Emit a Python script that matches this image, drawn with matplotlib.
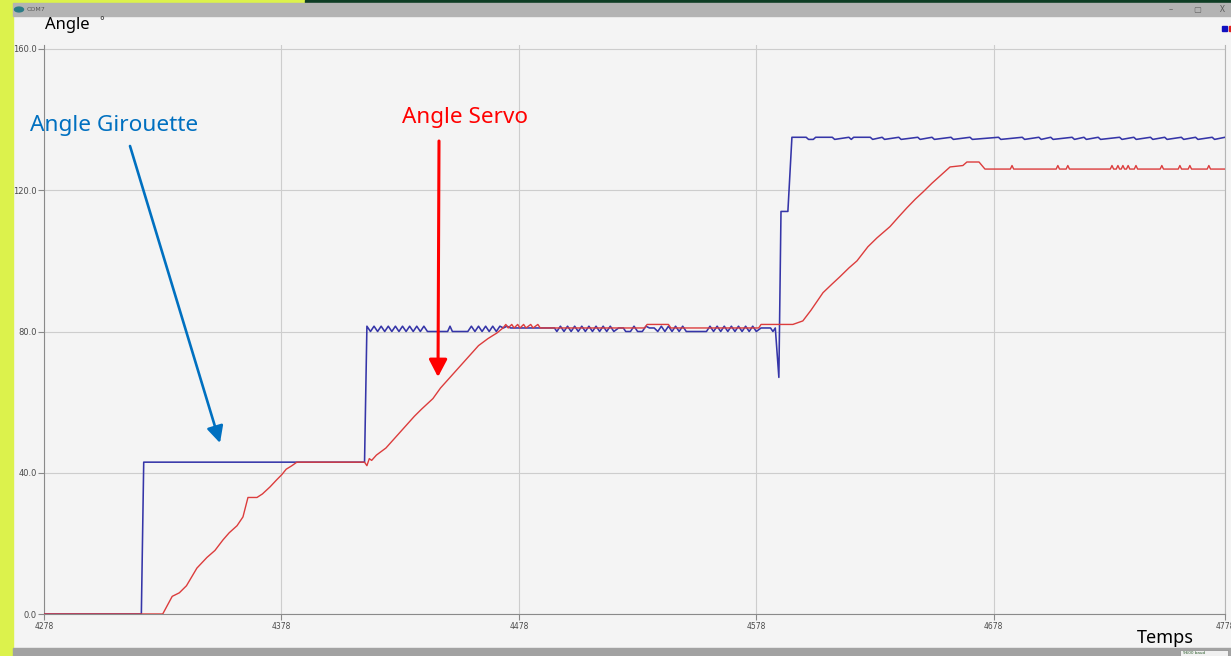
import matplotlib.pyplot as plt
from matplotlib.patches import Rectangle, Circle

plt.rcParams['font.family'] = ['Noto Sans', 'DejaVu Sans']

# ---------------------------------------------------------------
# data (x = sample index, y = degrees)
# ---------------------------------------------------------------
x_ticks = [4278, 4378, 4478, 4578, 4678, 4775.4]
x_labels = ['4278', '4378', '4478', '4578', '4678', '4778']
y_ticks = [0, 40, 80, 120, 160]
y_labels = ['0.0', '40.0', '80.0', '120.0', '160.0']

# Angle Girouette (blue)
blue_t = [4278, 4319, 4320, 4413, 4414,
          4415.5, 4417, 4418.5, 4420, 4421.5, 4423, 4424.5, 4426, 4427.5, 4429,
          4430.5, 4432, 4433.5, 4435, 4436.5, 4438, 4439.5,
          4448, 4449, 4450, 4456.5,
          4458, 4459.5, 4461, 4462.5, 4464, 4465.5, 4467, 4468.5,
          4470, 4471.5, 4473, 4474.5, 4493, 4494,
          4495.5, 4497, 4498.5, 4500, 4501.5, 4503, 4504.5, 4506, 4507.5, 4509,
          4510.5, 4512, 4513.5, 4515, 4516.5, 4518,
          4520, 4522, 4523, 4525, 4526.5, 4528,
          4530, 4531.5, 4533, 4535, 4536.5, 4538, 4539.5, 4541, 4542.5, 4544,
          4545.5, 4547, 4548.5, 4557,
          4558.5, 4560, 4561.5, 4563, 4564.5, 4566, 4567.5, 4569, 4570.5, 4572,
          4573.5, 4575, 4576.5, 4578,
          4580, 4584, 4585, 4586, 4587.5, 4588.4, 4591.3, 4593,
          4599, 4600, 4602, 4603, 4610, 4611, 4617, 4618, 4619, 4626, 4627,
          4631, 4632, 4638, 4639, 4646, 4647, 4652, 4653, 4660, 4661,
          4668, 4669, 4680, 4681, 4690, 4691, 4697, 4698, 4702, 4703,
          4711, 4712, 4716, 4717, 4722, 4723, 4731, 4732, 4737, 4738,
          4744, 4745, 4750, 4751, 4757, 4758, 4763, 4764, 4770, 4771, 4775.4]
blue_v = [0, 0, 43, 43, 81.5,
          80, 81.5, 80, 81.5, 80, 81.5, 80, 81.5, 80, 81.5,
          80, 81.5, 80, 81.5, 80, 81.5, 80,
          80, 81.5, 80, 80,
          81.5, 80, 81.5, 80, 81.5, 80, 81.5, 80,
          81.5, 81, 81.5, 81, 81, 80,
          81.5, 80, 81.5, 80, 81.5, 80, 81.5, 80, 81.5, 80,
          81.5, 80, 81.5, 80, 81.5, 80,
          81, 81, 80, 80, 81.5, 80,
          80, 81.5, 81, 81, 80, 81.5, 80, 81.5, 80, 81.5,
          80, 81.5, 80, 80,
          81.5, 80, 81.5, 80, 81.5, 80, 81.5, 80, 81.5, 80,
          81.5, 80, 81.5, 80,
          81, 81, 80, 81, 67, 114, 114, 135,
          135, 134.4, 134.4, 135, 135, 134.4, 135, 134.4, 135, 135, 134.4,
          135, 134.4, 135, 134.4, 135, 134.4, 135, 134.4, 135, 134.4,
          135, 134.4, 135, 134.4, 135, 134.4, 135, 134.4, 135, 134.4,
          135, 134.4, 135, 134.4, 135, 134.4, 135, 134.4, 135, 134.4,
          135, 134.4, 135, 134.4, 135, 134.4, 135, 134.4, 135, 134.4, 135]

# Angle Servo (red)
red_t = [4278, 4328, 4332, 4335, 4338, 4342.4, 4346.6, 4350, 4353.4, 4356,
         4359.3, 4361.8, 4363.9, 4367.7, 4370, 4373.2, 4376, 4378.2, 4380,
         4382.4, 4384.5, 4388.8, 4413, 4414, 4415, 4416,
         4418, 4422, 4426, 4430, 4434, 4437, 4441.8, 4445, 4449, 4453, 4457,
         4461, 4465, 4468.8, 4471.3,
         4472.5, 4473.5, 4475, 4476, 4477.5, 4478.5, 4480, 4481, 4483, 4484,
         4486, 4487, 4531, 4532, 4541, 4542, 4579, 4580, 4593.4,
         4597.6, 4601, 4606.1, 4610, 4613.2, 4617, 4620.4, 4625, 4628.8,
         4634.3, 4638, 4641.4, 4645, 4648.2, 4652, 4655.3, 4659.6, 4665,
         4666.7, 4671.8, 4674.3,
         4685, 4685.7, 4686.4, 4704.3, 4705, 4705.7, 4708.5, 4709.2, 4709.9,
         4727.1, 4727.8, 4728.5, 4729.6, 4730.3, 4731, 4731.7, 4732.4, 4733.1,
         4733.9, 4734.6, 4735.3, 4737.2, 4737.9, 4738.6,
         4748.1, 4748.8, 4749.5, 4755.7, 4756.4, 4757.1, 4759.9, 4760.6,
         4761.3, 4767.9, 4768.6, 4769.3, 4775.4]
red_v = [0, 0, 5, 6, 8, 13, 16, 18, 21, 23,
         25, 27.5, 33, 33, 34, 36, 38, 39.5, 41,
         42, 43, 43, 43, 42, 44, 43.5,
         45, 47, 50, 53, 56, 58, 61, 64, 67, 70, 73,
         76, 78, 79.6, 81,
         82, 81, 82, 81, 82, 81, 82, 81, 82, 81,
         82, 81, 81, 82, 82, 81, 81, 82, 82,
         83, 86, 91, 93.5, 95.5, 98, 100, 104, 106.5,
         109.7, 112.5, 115, 117.5, 119.5, 122, 124, 126.6, 127,
         128, 128, 126,
         126, 127, 126, 126, 127, 126, 126, 127, 126,
         126, 127, 126, 126, 127, 126, 126, 127, 126,
         126, 127, 126, 126, 127, 126,
         126, 127, 126, 126, 127, 126, 126, 127,
         126, 126, 127, 126, 126]

W, H = 1231, 656


def fx(x):
    return x / W


def fy(y):
    return 1 - y / H


fig = plt.figure(figsize=(W / 100, H / 100), dpi=100, facecolor='#f4f4f4')

# window chrome of the serial plotter screenshot
fig.add_artist(Rectangle((0, 0), fx(13), 1, transform=fig.transFigure,
                         color='#dcf24c', zorder=0))
fig.add_artist(Rectangle((0, fy(3)), fx(305), 3 / H, transform=fig.transFigure,
                         color='#dcf24c', zorder=0))
fig.add_artist(Rectangle((fx(305), fy(3)), 1, 3 / H, transform=fig.transFigure,
                         color='#0e3d24', zorder=0))
fig.add_artist(Rectangle((fx(13), fy(16)), 1, 13 / H, transform=fig.transFigure,
                         color='#b3b3b3', zorder=0))
fig.add_artist(Rectangle((fx(13), 0), 1, 8 / H, transform=fig.transFigure,
                         color='#a2a2a2', zorder=0))
fig.add_artist(Rectangle((fx(1180), 0), 48 / W, 6 / H, transform=fig.transFigure,
                         facecolor='#f0f0f0', edgecolor='#8a8a8a', lw=0.5, zorder=1))
fig.text(fx(1183), fy(653), '9600 baud', fontsize=3, color='#2a5a2a',
         va='center', family='DejaVu Sans')
fig.add_artist(Circle((fx(19), fy(9.5)), 4.5 / W, transform=fig.transFigure,
                      color='#2b7c86', zorder=1))
fig.text(fx(27), fy(9.5), 'COM7', fontsize=4.5, color='#555555', va='center',
         family='DejaVu Sans')
fig.text(fx(1171), fy(9.5), '–', fontsize=6, color='#666666', va='center', ha='center')
fig.text(fx(1197), fy(9.5), '▢', fontsize=6, color='#666666', va='center', ha='center',
         family='DejaVu Sans')
fig.text(fx(1222), fy(9.5), 'X', fontsize=6, color='#555555', va='center', ha='center')
fig.add_artist(Rectangle((fx(1222), fy(31)), 5 / W, 5 / H, transform=fig.transFigure,
                         color='#1010c0', zorder=1))
fig.add_artist(Rectangle((fx(1229), fy(31)), 3 / W, 5 / H, transform=fig.transFigure,
                         color='#e02020', zorder=1))

ax = fig.add_axes([fx(44), fy(614), (1225 - 44) / W, (614 - 45) / H])
ax.set_facecolor('#f4f4f4')
ax.plot(blue_t, blue_v, color='#3535a8', lw=1.15, zorder=3)
ax.plot(red_t, red_v, color='#dc3c3c', lw=1.0, zorder=4)

ax.set_xlim(4278, 4775.4)
ax.set_ylim(0, 160 * 569 / 565)
ax.set_xticks(x_ticks)
ax.set_xticklabels(x_labels)
ax.set_yticks(y_ticks)
ax.set_yticklabels(y_labels)
ax.tick_params(axis='both', direction='out', length=4, width=0.8, color='#8a8a8a',
               labelcolor='#4a4a4a')
ax.tick_params(axis='y', labelsize=6, pad=1)
ax.tick_params(axis='x', labelsize=5.5, pad=2)
for lab in ax.get_xticklabels() + ax.get_yticklabels():
    lab.set_family('DejaVu Sans')
ax.grid(True, color='#cdcdcd', lw=0.8)
ax.set_axisbelow(True)
ax.spines['top'].set_visible(False)
ax.spines['left'].set_color('#8a8a8a')
ax.spines['bottom'].set_color('#8a8a8a')
ax.spines['right'].set_color('#b5b5b5')

# annotations drawn over the screenshot
fig.text(fx(45), fy(25), 'Angle', fontsize=12, color='black', va='center')
fig.text(fx(99), fy(22), '°', fontsize=8, color='#333333', va='center')
fig.text(fx(1137), fy(638), 'Temps', fontsize=13, color='black', va='center')
fig.text(fx(30), fy(125), 'Angle Girouette', fontsize=16.3, color='#0070c0', va='center')
fig.text(fx(402), fy(118), 'Angle Servo', fontsize=16.2, color='#ff0000', va='center')

ax.annotate('', xy=(fx(220), fy(443)), xycoords='figure fraction',
            xytext=(fx(130), fy(146)), textcoords='figure fraction',
            arrowprops=dict(arrowstyle='-|>,head_width=0.5,head_length=1.0',
                            color='#0070c0', lw=1.9, shrinkA=0, shrinkB=0),
            annotation_clip=False)
ax.annotate('', xy=(fx(438), fy(377)), xycoords='figure fraction',
            xytext=(fx(439), fy(141)), textcoords='figure fraction',
            arrowprops=dict(arrowstyle='-|>,head_width=0.55,head_length=1.05',
                            color='#ff0000', lw=2.2, shrinkA=0, shrinkB=0),
            annotation_clip=False)

fig.savefig('out.png', dpi=100, facecolor=fig.get_facecolor())
